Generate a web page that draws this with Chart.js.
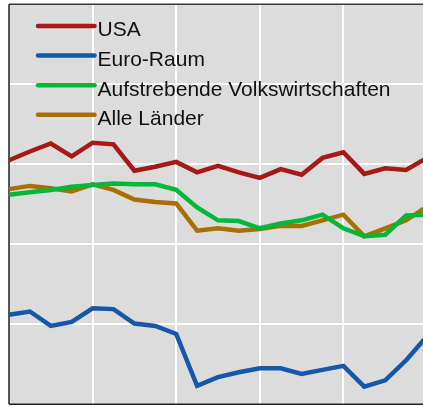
<!DOCTYPE html>
<html>
<head>
<meta charset="utf-8">
<script src="https://cdn.jsdelivr.net/npm/chart.js@4"></script>
<style>
  html, body { margin: 0; padding: 0; background: #ffffff; overflow: hidden; }
  #wrap { position: relative; width: 430px; height: 406px; }
</style>
</head>
<body>
<div id="wrap"><canvas id="c"></canvas></div>
<script>
const categories = ["1","2","3","4","5","6","7","8","9","10","11","12","13","14","15","16","17","18","19","20","21"];
const seriesNames = ["USA", "Euro-Raum", "Aufstrebende Volkswirtschaften", "Alle Länder"];
const usa = [3.05, 3.16, 3.26, 3.10, 3.27, 3.25, 2.92, 2.97, 3.03, 2.90, 2.98, 2.90, 2.83, 2.94, 2.87, 3.08, 3.15, 2.88, 2.95, 2.93, 3.08];
const euro = [1.12, 1.16, 0.98, 1.03, 1.20, 1.19, 1.01, 0.98, 0.88, 0.23, 0.34, 0.40, 0.45, 0.45, 0.38, 0.43, 0.48, 0.22, 0.30, 0.55, 0.85];
const emerging = [2.62, 2.65, 2.68, 2.72, 2.74, 2.76, 2.75, 2.75, 2.68, 2.46, 2.30, 2.29, 2.20, 2.26, 2.30, 2.37, 2.20, 2.10, 2.12, 2.36, 2.37];
const allCountries = [2.69, 2.73, 2.70, 2.66, 2.75, 2.68, 2.56, 2.53, 2.51, 2.17, 2.20, 2.17, 2.19, 2.23, 2.23, 2.30, 2.37, 2.10, 2.20, 2.30, 2.47];
const yTicks = [0, 1, 2, 3, 4, 5];

const colors = ["#a51a17", "#1558a8", "#00b83a", "#a87000"];
const values = [usa, euro, emerging, allCountries];

const bgPlugin = {
  id: 'bg',
  beforeDraw(chart) {
    const {ctx, chartArea: a} = chart;
    ctx.save();
    ctx.fillStyle = '#dcdcdc';
    ctx.fillRect(a.left, a.top, a.right - a.left, a.bottom - a.top);
    ctx.restore();
  },
  beforeDatasetsDraw(chart) {
    const {ctx, chartArea: a} = chart;
    ctx.save();
    ctx.strokeStyle = '#3a3a3a';
    ctx.lineWidth = 1.5;
    ctx.beginPath();
    ctx.moveTo(a.left, a.top); ctx.lineTo(chart.width, a.top);
    ctx.stroke();
    ctx.strokeStyle = '#222222';
    ctx.beginPath();
    ctx.moveTo(a.left, a.top); ctx.lineTo(a.left, a.bottom);
    ctx.moveTo(a.left, a.bottom); ctx.lineTo(chart.width, a.bottom);
    ctx.stroke();
    ctx.restore();
  },
  afterDraw(chart) {
    const {ctx} = chart;
    ctx.save();
    ctx.font = '21px "Liberation Sans", Arial, sans-serif';
    ctx.textBaseline = 'alphabetic';
    ctx.lineCap = 'round';
    chart.data.datasets.forEach((ds, i) => {
      const y = 26 + i * 29.6;
      ctx.strokeStyle = ds.borderColor;
      ctx.lineWidth = 4.5;
      ctx.beginPath();
      ctx.moveTo(38, y); ctx.lineTo(94.5, y);
      ctx.stroke();
      ctx.fillStyle = '#111111';
      ctx.fillText(ds.label, 97.5, y + 10.3);
    });
    ctx.restore();
  }
};

new Chart(document.getElementById('c'), {
  type: 'line',
  data: {
    labels: categories,
    datasets: seriesNames.map((name, i) => ({
      label: name,
      data: values[i],
      borderColor: colors[i],
      backgroundColor: colors[i],
      borderWidth: 4.5,
      pointRadius: 0,
      tension: 0,
      fill: false
    }))
  },
  options: {
    responsive: true,
    maintainAspectRatio: false,
    animation: false,
    layout: { padding: { left: 9, right: 3, top: 4.3, bottom: 1.7 } },
    plugins: { legend: { display: false }, tooltip: { enabled: false } },
    scales: {
      x: {
        offset: false,
        ticks: { display: false },
        border: { display: false },
        grid: {
          drawTicks: false,
          lineWidth: 2,
          color: (c) => (c.index % 4 === 0 && c.index !== 0 && c.index !== 20) ? '#ffffff' : 'rgba(0,0,0,0)'
        }
      },
      y: {
        min: yTicks[0],
        max: yTicks[yTicks.length - 1],
        afterBuildTicks: (s) => { s.ticks = yTicks.map(v => ({ value: v })); },
        ticks: { display: false },
        border: { display: false },
        grid: {
          drawTicks: false,
          lineWidth: 2,
          color: (c) => (c.tick && c.tick.value > yTicks[0] && c.tick.value < yTicks[yTicks.length - 1]) ? '#ffffff' : 'rgba(0,0,0,0)'
        }
      }
    }
  },
  plugins: [bgPlugin]
});
</script>
</body>
</html>
